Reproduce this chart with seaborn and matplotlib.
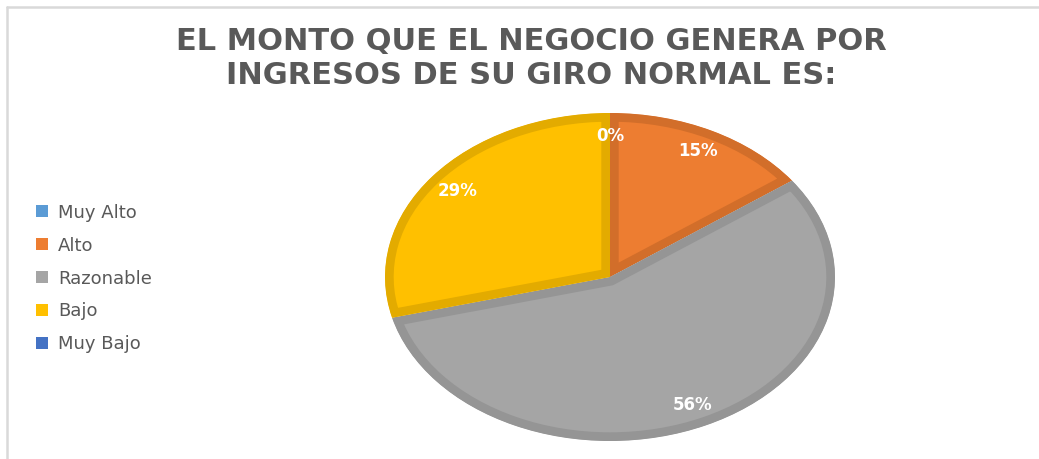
import matplotlib
matplotlib.use("Agg")
import matplotlib.pyplot as plt
from matplotlib.patches import Patch
from matplotlib.lines import Line2D
import seaborn as sns

# Survey answers and their share of responses (%)
categories = ["Muy Alto", "Alto", "Razonable", "Bajo", "Muy Bajo"]
shares = [0, 15, 56, 29, 0]
fill_colors = ["#5B9BD5", "#ED7D31", "#A5A5A5", "#FFC000", "#4472C4"]
edge_colors = ["#4F89BD", "#D26E2A", "#959595", "#E3AB00", "#3C64AD"]
title = "EL MONTO QUE EL NEGOCIO GENERA POR\nINGRESOS DE SU GIRO NORMAL ES:"

sns.set_theme(style="white")
plt.rcParams["font.family"] = ["DejaVu Sans"]

W, H = 1039, 459
fig = plt.figure(figsize=(W / 100, H / 100), dpi=100)
fig.patch.set_facecolor("white")

# frame lines along the top and left of the chart area
fig.add_artist(Line2D([7 / W, 1], [1 - 6.5 / H] * 2, color="#D9D9D9", lw=1.8))
fig.add_artist(Line2D([7 / W] * 2, [0, 1 - 6.5 / H], color="#D9D9D9", lw=1.8))

fig.text(0.511, 1 - 58.5 / H, title, ha="center", va="center",
         fontsize=22, fontweight="bold", color="#595959", linespacing=1.26)

# pie axes: stretched horizontally into an ellipse
left, right, top, bottom = 385, 835, 113, 441
ax = fig.add_axes([left / W, 1 - bottom / H, (right - left) / W, (bottom - top) / H])
wedges, _, autotexts = ax.pie(
    shares, colors=fill_colors, startangle=90, counterclock=False,
    autopct=lambda p: f"{p:.0f}%", pctdistance=0.86, radius=1.0,
    wedgeprops=dict(linewidth=12.5), textprops=dict(color="white", fontsize=12, fontweight="bold"),
)
for w, ec in zip(wedges, edge_colors):
    w.set_edgecolor(ec)
    # keep the border on the inside of each slice
    w.set_clip_path(w)
    w.set_clip_on(True)
ax.set_aspect("auto")
ax.set_xlim(-1, 1)
ax.set_ylim(-1, 1)
ax.axis("off")

# the two empty slices sit at the same spot; show their label once
seen = False
for t, v in zip(autotexts, shares):
    if v == 0:
        if seen:
            t.set_visible(False)
        seen = True

handles = [Patch(facecolor=c, edgecolor="none") for c in fill_colors]
fig.legend(handles, categories, loc="center left", bbox_to_anchor=(20 / W, 1 - 278.5 / H),
           frameon=False, fontsize=13, labelcolor="#595959", handlelength=0.67,
           handleheight=0.67, handletextpad=0.55, labelspacing=0.83)

fig.savefig("out.png", dpi=100, facecolor="white")
